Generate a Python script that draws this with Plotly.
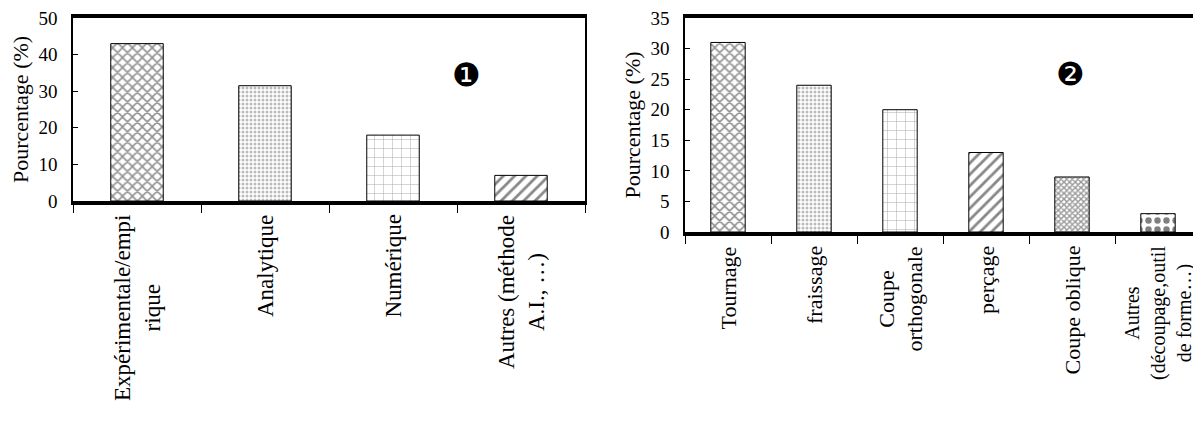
import plotly.graph_objects as go

# ---- data ----
methods = ["Expérimentale/empi<br>rique", "Analytique", "Numérique", "Autres (méthode<br>A.I., …)"]
methods_pct = [43, 31.5, 18, 7]

processes = ["Tournage", "fraissage", "Coupe<br>orthogonale", "perçage", "Coupe oblique",
             "Autres<br>(découpage,outil<br>de forme…)"]
processes_pct = [31, 24, 20, 13, 9, 3]

y1_ticks = [0, 10, 20, 30, 40, 50]
y2_ticks = [0, 5, 10, 15, 20, 25, 30, 35]

# ---- styles ----
FONT = "Liberation Serif"
W, H = 1193, 417  # page body adds an 8px margin

shapes1 = ["x", ".", "+", "/"]
sizes1 = [7, 4, 9, 8]
sol1 = [0.4, 0.45, 0.12, 0.35]
fg1 = ["#222", "#777", "#666", "#111"]

shapes2 = ["x", ".", "+", "/", "x", "."]
sizes2 = [7, 4, 9, 8, 4, 9]
sol2 = [0.4, 0.45, 0.12, 0.35, 0.6, 0.4]
fg2 = ["#222", "#777", "#666", "#111", "#333", "#000"]

fig = go.Figure()
fig.add_trace(go.Bar(
    x=methods, y=methods_pct, xaxis="x", yaxis="y", width=0.41,
    marker=dict(color="white", line=dict(color="black", width=1),
                pattern=dict(shape=shapes1, size=sizes1, solidity=sol1,
                             fgcolor=fg1, bgcolor="white")),
    showlegend=False))
fig.add_trace(go.Bar(
    x=processes, y=processes_pct, xaxis="x2", yaxis="y2", width=0.40,
    marker=dict(color="white", line=dict(color="black", width=1),
                pattern=dict(shape=shapes2, size=sizes2, solidity=sol2,
                             fgcolor=fg2, bgcolor="white")),
    showlegend=False))

xcommon = dict(type="category", showline=True, linecolor="black", linewidth=4, mirror=True,
               ticks="outside", tickson="boundaries", ticklen=8, tickcolor="black", tickwidth=1,
               showticklabels=False, showgrid=False, automargin=False, zeroline=False)
ycommon = dict(showline=True, linecolor="black", linewidth=1.5, mirror=True,
               ticks="inside", ticklen=5, tickcolor="black", ticklabelstandoff=10,
               ticklabeloverflow="allow",
               tickfont=dict(family=FONT, size=19, color="black"),
               showgrid=False, zeroline=False, automargin=False,
               title=dict(text="Pourcentage (%)", font=dict(family=FONT, size=22, color="black"),
                          standoff=4))

annotations = []
for name in methods:
    annotations.append(dict(text=name, xref="x", yref="y domain", x=name, y=0, yshift=-12,
                            xanchor="center", yanchor="top", textangle=-90, align="center",
                            showarrow=False, font=dict(family=FONT, size=23, color="black")))
for i, name in enumerate(processes):
    last = i == len(processes) - 1
    annotations.append(dict(text=name, xref="x2", yref="y2 domain", x=name, y=0, yshift=-12,
                            xanchor="center", yanchor="top", textangle=-90, align="center",
                            showarrow=False,
                            font=dict(family=FONT, size=20 if last else 22, color="black")))
annotations += [
    dict(text="❶", xref="x domain", yref="y domain", x=0.80, y=0.806, showarrow=False,
         font=dict(family="DejaVu Sans", size=32, color="black")),
    dict(text="❷", xref="x2 domain", yref="y2 domain", x=0.78, y=0.838, showarrow=False,
         font=dict(family="DejaVu Sans", size=32, color="black")),
]

fig.update_layout(
    width=W, height=H,
    margin=dict(l=0, r=0, t=0, b=0),
    paper_bgcolor="white", plot_bgcolor="white",
    xaxis=dict(domain=[65 / W, 577 / W], anchor="y", **xcommon),
    yaxis=dict(domain=[1 - 193 / H, 1 - 10 / H], anchor="x", range=[0, 50], tickvals=y1_ticks, **ycommon),
    xaxis2=dict(domain=[677 / W, 1.0], anchor="y2", **xcommon),
    yaxis2=dict(domain=[1 - 224 / H, 1 - 10 / H], anchor="x2", range=[0, 35], tickvals=y2_ticks, **ycommon),
    annotations=annotations,
)

fig.write_html("out.html")
